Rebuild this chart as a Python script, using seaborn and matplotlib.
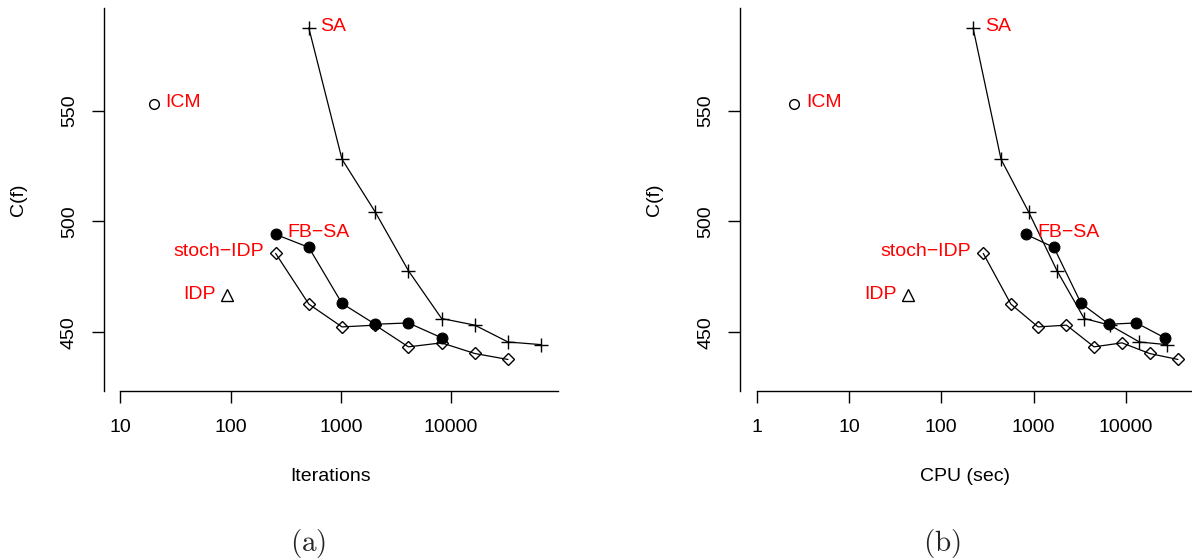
import numpy as np
import pandas as pd
import matplotlib
matplotlib.use("Agg")
import matplotlib.pyplot as plt
import seaborn as sns

# ---------------- data ----------------
sa_iter = [512, 1024, 2048, 4096, 8192, 16384, 32768, 65536]
sa_cpu = [221, 444, 885, 1795, 3540, 6730, 14050, 27700]
sa_cost = [587.4, 528.1, 504.3, 477.8, 456.2, 453.2, 445.6, 444.4]

fbsa_iter = [256, 512, 1024, 2048, 4096, 8192]
fbsa_cpu = [828, 1663, 3280, 6600, 13030, 26400]
fbsa_cost = [494.2, 488.3, 463.0, 453.6, 454.2, 447.5]

sidp_iter = [256, 512, 1024, 2048, 4096, 8192, 16384, 32768]
sidp_cpu = [285, 568, 1120, 2275, 4530, 9100, 18100, 36800]
sidp_cost = [485.6, 462.7, 452.4, 453.2, 443.4, 445.2, 440.4, 437.7]

icm_iter = [20]
icm_cpu = [2.55]
icm_cost = [553.0]

idp_iter = [93]
idp_cpu = [44]
idp_cost = [466.6]

x_ticks_a = [10, 100, 1000, 10000]
x_ticks_b = [1, 10, 100, 1000, 10000]
y_ticks = [450, 500, 550]

# ---------------- style ----------------
sns.set_theme(style="white")
plt.rcParams['font.family'] = ['Liberation Sans', 'DejaVu Sans']
plt.rcParams['mathtext.fontset'] = 'cm'

FS = 14
fig = plt.figure(figsize=(11.92, 5.59), dpi=100)
W, H = 1192, 559
top_px, bot_px = 8, 390.7
ax_a = fig.add_axes([103.5 / W, 1 - bot_px / H, 454.5 / W, (bot_px - top_px) / H])
ax_b = fig.add_axes([740 / W, 1 - bot_px / H, 454.8 / W, (bot_px - top_px) / H])


def draw_panel(ax, sa_x, fb_x, sd_x, icm_x, idp_x, xticks, xlo, xlabel, xlab_x):
    common = dict(ax=ax, color='black', estimator=None, sort=False,
                  linewidth=0.9, markeredgecolor='black')
    sns.lineplot(x=sa_x, y=sa_cost, marker='+', markersize=10,
                 markeredgewidth=1.0, **common)
    sns.lineplot(x=fb_x, y=fbsa_cost, marker='o', markersize=7.8,
                 markerfacecolor='black', markeredgewidth=0.8, **common)
    sns.lineplot(x=sd_x, y=sidp_cost, marker='D', markersize=6.5,
                 markerfacecolor='none', markeredgewidth=1.0, **common)
    sns.lineplot(x=icm_x, y=icm_cost, marker='o', markersize=7,
                 markerfacecolor='none', markeredgewidth=1.0,
                 linestyle='none', **common)
    sns.lineplot(x=idp_x, y=idp_cost, marker='^', markersize=8.5,
                 markerfacecolor='none', markeredgewidth=1.0,
                 linestyle='none', **common)

    ax.set_xscale('log')
    # R-style 4% padding of the axis ranges
    lo, hi = np.log10(xlo), np.log10(max(sa_x + sd_x + fb_x))
    pad = 0.04 * (hi - lo)
    ax.set_xlim(10 ** (lo - pad), 10 ** (hi + pad))
    ylo, yhi = 430, 590
    ypad = 0.04 * (yhi - ylo)
    ax.set_ylim(ylo - ypad, yhi + ypad)

    ax.set_xticks(xticks)
    ax.set_xticklabels([str(t) for t in xticks])
    ax.xaxis.set_minor_locator(matplotlib.ticker.NullLocator())
    ax.set_yticks(y_ticks)
    ax.set_yticklabels([str(t) for t in y_ticks], rotation=90, va='center')

    for s in ['top', 'right']:
        ax.spines[s].set_visible(False)
    for s in ['left', 'bottom']:
        ax.spines[s].set_color('black')
        ax.spines[s].set_linewidth(1.0)
    ax.spines['bottom'].set_bounds(xticks[0], 10 ** (hi + pad))
    ax.tick_params(axis='both', which='major', direction='out', length=8.5,
                   width=1.0, color='black', labelsize=FS, labelcolor='black',
                   bottom=True, left=True, top=False, right=False)
    ax.tick_params(axis='x', pad=12)
    ax.tick_params(axis='y', pad=10)
    ax.set_facecolor('white')
    ax.grid(False)

    ax.set_xlabel(xlabel, fontsize=FS, color='black')
    ax.xaxis.set_label_coords(xlab_x, -0.2255)
    ax.xaxis.label.set_va('center')
    ax.set_ylabel('C(f)', fontsize=FS, color='black')
    ax.yaxis.set_label_coords(-0.188, 0.5)
    ax.yaxis.label.set_va('center')

    lab = dict(color='red', fontsize=FS, textcoords='offset points', va='center')
    ax.annotate('SA', (sa_x[0], sa_cost[0]), xytext=(8.5, 1), ha='left', **lab)
    ax.annotate('ICM', (icm_x[0], icm_cost[0]), xytext=(8.5, 1), ha='left', **lab)
    ax.annotate('FB\u2212SA', (fb_x[0], fbsa_cost[0]), xytext=(8.5, 1), ha='left', **lab)
    ax.annotate('stoch\u2212IDP', (sd_x[0], sidp_cost[0]), xytext=(-8.5, 1), ha='right', **lab)
    ax.annotate('IDP', (idp_x[0], idp_cost[0]), xytext=(-8.5, 1), ha='right', **lab)


draw_panel(ax_a, sa_iter, fbsa_iter, sidp_iter, icm_iter, idp_iter,
           x_ticks_a, 10, 'Iterations', 0.5)
draw_panel(ax_b, sa_cpu, fbsa_cpu, sidp_cpu, icm_cpu, idp_cpu,
           x_ticks_b, 1, 'CPU (sec)', 0.494)

fig.text(307.7 / W, 1 - 543 / H, r'$\mathrm{(a)}$', fontsize=21, ha='center', va='center')
fig.text(941.7 / W, 1 - 543 / H, r'$\mathrm{(b)}$', fontsize=21, ha='center', va='center')

fig.savefig('out.png', dpi=100, facecolor='white')
